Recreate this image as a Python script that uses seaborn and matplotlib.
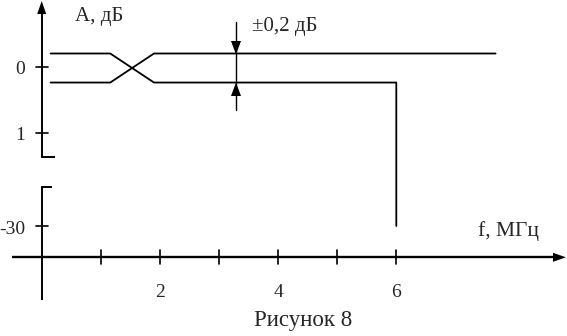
import matplotlib
matplotlib.use("Agg")
import matplotlib.pyplot as plt
import seaborn as sns
import pandas as pd

# ---------------- data ----------------
# response curve 1: starts at +0.2 dB, crosses to -0.24 dB, then falls to -30 dB at 6 MHz
f_curve_a = [0.15, 1.16, 1.90, 6.0, 6.0]
A_curve_a = [0.2, 0.2, -0.24, -0.24, -30.0]
# response curve 2: starts at -0.24 dB, crosses to +0.2 dB, continues flat
f_curve_b = [0.15, 1.16, 1.90, 7.68]
A_curve_b = [-0.24, -0.24, 0.2, 0.2]

x_tick_values = [1, 2, 3, 4, 5, 6]
x_tick_labels = ["", "2", "", "4", "", "6"]
y_tick_values = [0.0, -1.0, -30.0]
y_tick_labels = ["0", "1", "-30"]
tolerance_f = 3.29

y_axis_label = "A, дБ"
x_axis_label = "f, МГц"
tolerance_label = "±0,2 дБ"
caption = "Рисунок 8"

# ---------------- layout ----------------
W, H, DPI = 567, 336, 100
X0_PX, PX_PER_MHZ = 41.7, 59.1
Y0_PX, PX_PER_DB = 66.7, 66.0
Y30_PX = 226.0       # pixel row of the -30 dB tick (below the axis break)
XAXIS_PX = 257.3


def fx(px):
    return (px - X0_PX) / PX_PER_MHZ


def fy(py):
    return -(py - Y0_PX) / PX_PER_DB


LOWER_SHIFT = fy(Y30_PX) + 30.0


def ypos(a):
    # broken axis: small attenuations on the upper part, -30 dB region below the break
    return a if a > -5 else a + LOWER_SHIFT


sns.set_style("white")
plt.rcParams["font.family"] = ["Liberation Serif", "DejaVu Serif"]

fig = plt.figure(figsize=(W / DPI, H / DPI), dpi=DPI)
ax = fig.add_axes([0, 0, 1, 1])

K = "black"
AX_LW = 1.4
CURVE_LW = 1.3

# curves
df_a = pd.DataFrame({"f": f_curve_a, "y": [ypos(a) for a in A_curve_a]})
df_b = pd.DataFrame({"f": f_curve_b, "y": [ypos(a) for a in A_curve_b]})
sns.lineplot(data=df_a, x="f", y="y", sort=False, estimator=None, color=K, lw=CURVE_LW, ax=ax)
sns.lineplot(data=df_b, x="f", y="y", sort=False, estimator=None, color=K, lw=CURVE_LW, ax=ax)
ax.set_xlim(fx(0), fx(W))
ax.set_ylim(fy(H), fy(0))
ax.axis("off")


def pline(pts, lw=AX_LW):
    ax.plot([fx(p[0]) for p in pts], [fy(p[1]) for p in pts], color=K, lw=lw,
            solid_capstyle="butt", solid_joinstyle="miter")


def ptri(pts):
    ax.fill([fx(p[0]) for p in pts], [fy(p[1]) for p in pts], color=K, lw=0)


# y axis (broken)
pline([(X0_PX, 12), (X0_PX, 156.7), (55, 156.7)])
pline([(52, 186.7), (X0_PX, 186.7), (X0_PX, 300)])
ptri([(X0_PX, 1), (X0_PX - 4.5, 14), (X0_PX + 4.5, 14)])

# x axis
pline([(12, XAXIS_PX), (555, XAXIS_PX)], lw=1.7)
ptri([(566, XAXIS_PX), (553, XAXIS_PX - 4.5), (553, XAXIS_PX + 4.5)])

# x ticks and labels
for v, lab in zip(x_tick_values, x_tick_labels):
    ax.plot([v, v], [fy(250), fy(263.5)], color=K, lw=1.2)
    if lab:
        ax.text(v, fy(292), lab, ha="center", va="center", fontsize=14)

# y ticks and labels
for v, lab in zip(y_tick_values, y_tick_labels):
    yv = ypos(v)
    ax.plot([fx(35.5), fx(48)], [yv, yv], color=K, lw=1.2)
    dy = (fy(69) - fy(66.7)) if v > -5 else (fy(229) - fy(226))
    ax.text(fx(25), yv + dy, lab, ha="right", va="center", fontsize=14)

# tolerance marker
ax.plot([tolerance_f, tolerance_f], [fy(22), fy(110)], color=K, lw=1.0)
ptri([(236, 54.5), (231, 41), (241, 41)])
ptri([(236, 82.5), (231, 96), (241, 96)])

# texts
ax.text(fx(99), fy(16), y_axis_label, ha="center", va="center", fontsize=15)
ax.text(fx(285), fy(26), tolerance_label, ha="center", va="center", fontsize=15)
ax.text(fx(508), fy(231), x_axis_label, ha="center", va="center", fontsize=15.5)
ax.text(fx(303), fy(320), caption, ha="center", va="center", fontsize=16.5)

fig.savefig("out.png", dpi=DPI, facecolor="white")
